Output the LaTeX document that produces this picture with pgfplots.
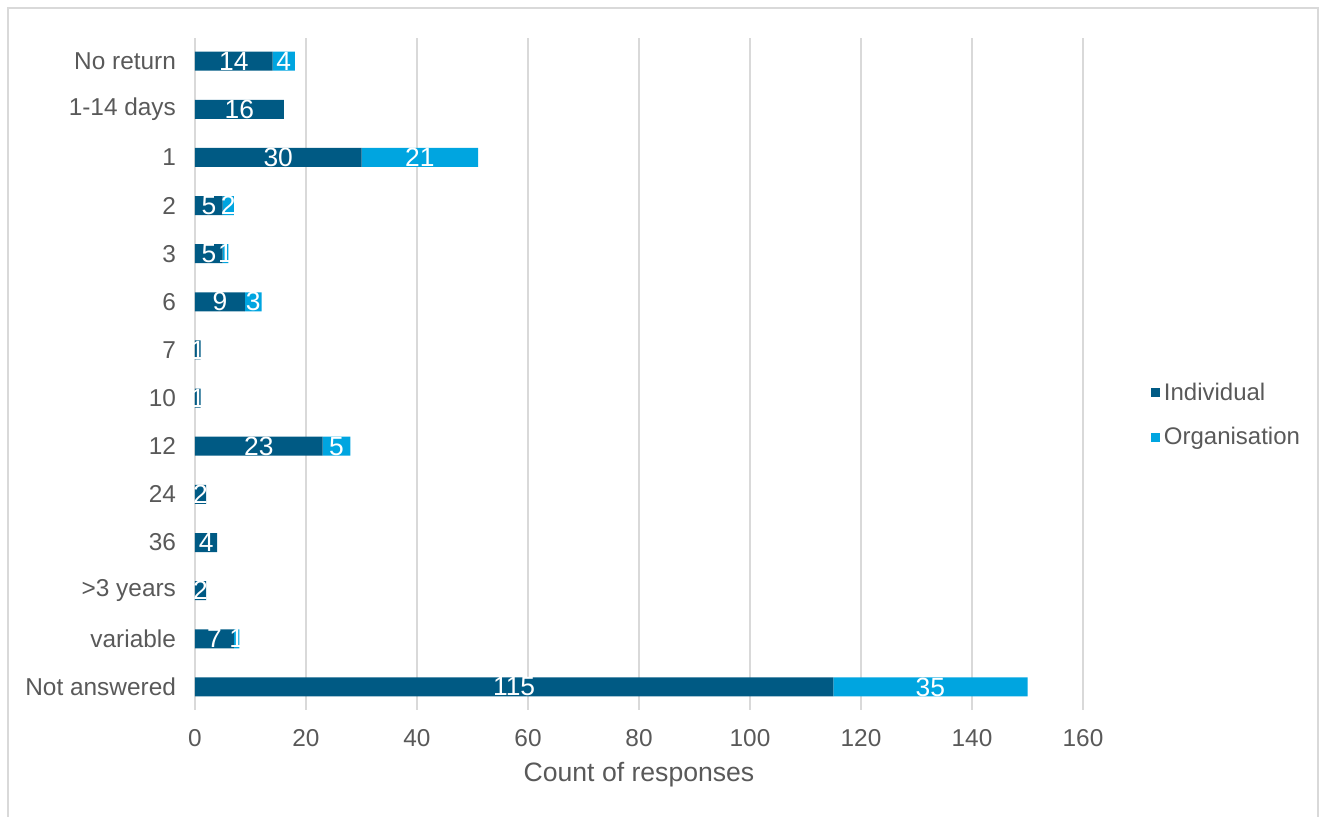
\documentclass[border=0pt]{standalone}
\usepackage{fontspec}
\setmainfont{Liberation Sans}
\usepackage{pgfplots}
\pgfplotsset{compat=1.18}
\definecolor{indiv}{HTML}{005A84}
\definecolor{orga}{HTML}{00A5E0}
\definecolor{txt}{HTML}{595959}
\definecolor{gridc}{HTML}{D9D9D9}
\begin{document}
\begin{tikzpicture}[x=1pt,y=1pt]
\useasboundingbox (-97.5,-53) rectangle (565,355);
\draw[gridc, line width=1pt] (-93.5,-60) -- (-93.5,351) -- (561.5,351) -- (561.5,-60);
\begin{axis}[at={(0,0)}, anchor=south west, scale only axis, width=444pt, height=336pt,
 xbar stacked, bar width=9.5pt,
 xmin=0, xmax=160, ymin=-0.48, ymax=13.48, y dir=reverse,
 ytick={0,...,13},
 yticklabels={No return,1-14 days,1,2,3,6,7,10,12,24,36,{>3 years},variable,Not answered},
 xtick={0,20,...,160},
 xmajorgrids, grid style={gridc, line width=1pt},
 axis line style={draw=none}, major tick length=0pt,
 tick label style={font=\fontsize{12.2}{14}\selectfont, text=txt},
 /pgf/number format/assume math mode=true,
 xticklabel style={yshift=-6pt},
 yticklabel style={xshift=-6pt},
 xlabel={Count of responses},
 xlabel style={font=\fontsize{13.3}{15}\selectfont, text=txt, at={(axis description cs:0.5,0)}, anchor=center, yshift=-32.5pt},
 legend style={at={(1.0695,0.439)}, anchor=west, draw=none, fill=none, font=\fontsize{12}{14}\selectfont, text=txt, row sep=8pt},
 legend cell align=left,
 legend image code/.code={\fill[#1] (-5pt,-2.2pt) rectangle (-0.6pt,2.2pt);},
 nodes near coords={\pgfmathfloatifflags{\pgfplotspointmeta}{0}{}{\pgfmathprintnumber{\pgfplotspointmeta}}},
 every node near coord/.append style={anchor=center, text=white, font=\fontsize{13.2}{15}\selectfont, inner sep=0pt},
]
\addplot[fill=indiv, draw=none] coordinates {
(14,0) (16,1) (30,2) (5,3) (5,4) (9,5) (1,6) (1,7) (23,8) (2,9) (4,10) (2,11) (7,12) (115,13)};
\addplot[fill=orga, draw=none] coordinates {
(4,0) (0,1) (21,2) (2,3) (1,4) (3,5) (0,6) (0,7) (5,8) (0,9) (0,10) (0,11) (1,12) (35,13)};
\legend{Individual,Organisation}
\end{axis}
\end{tikzpicture}
\end{document}
